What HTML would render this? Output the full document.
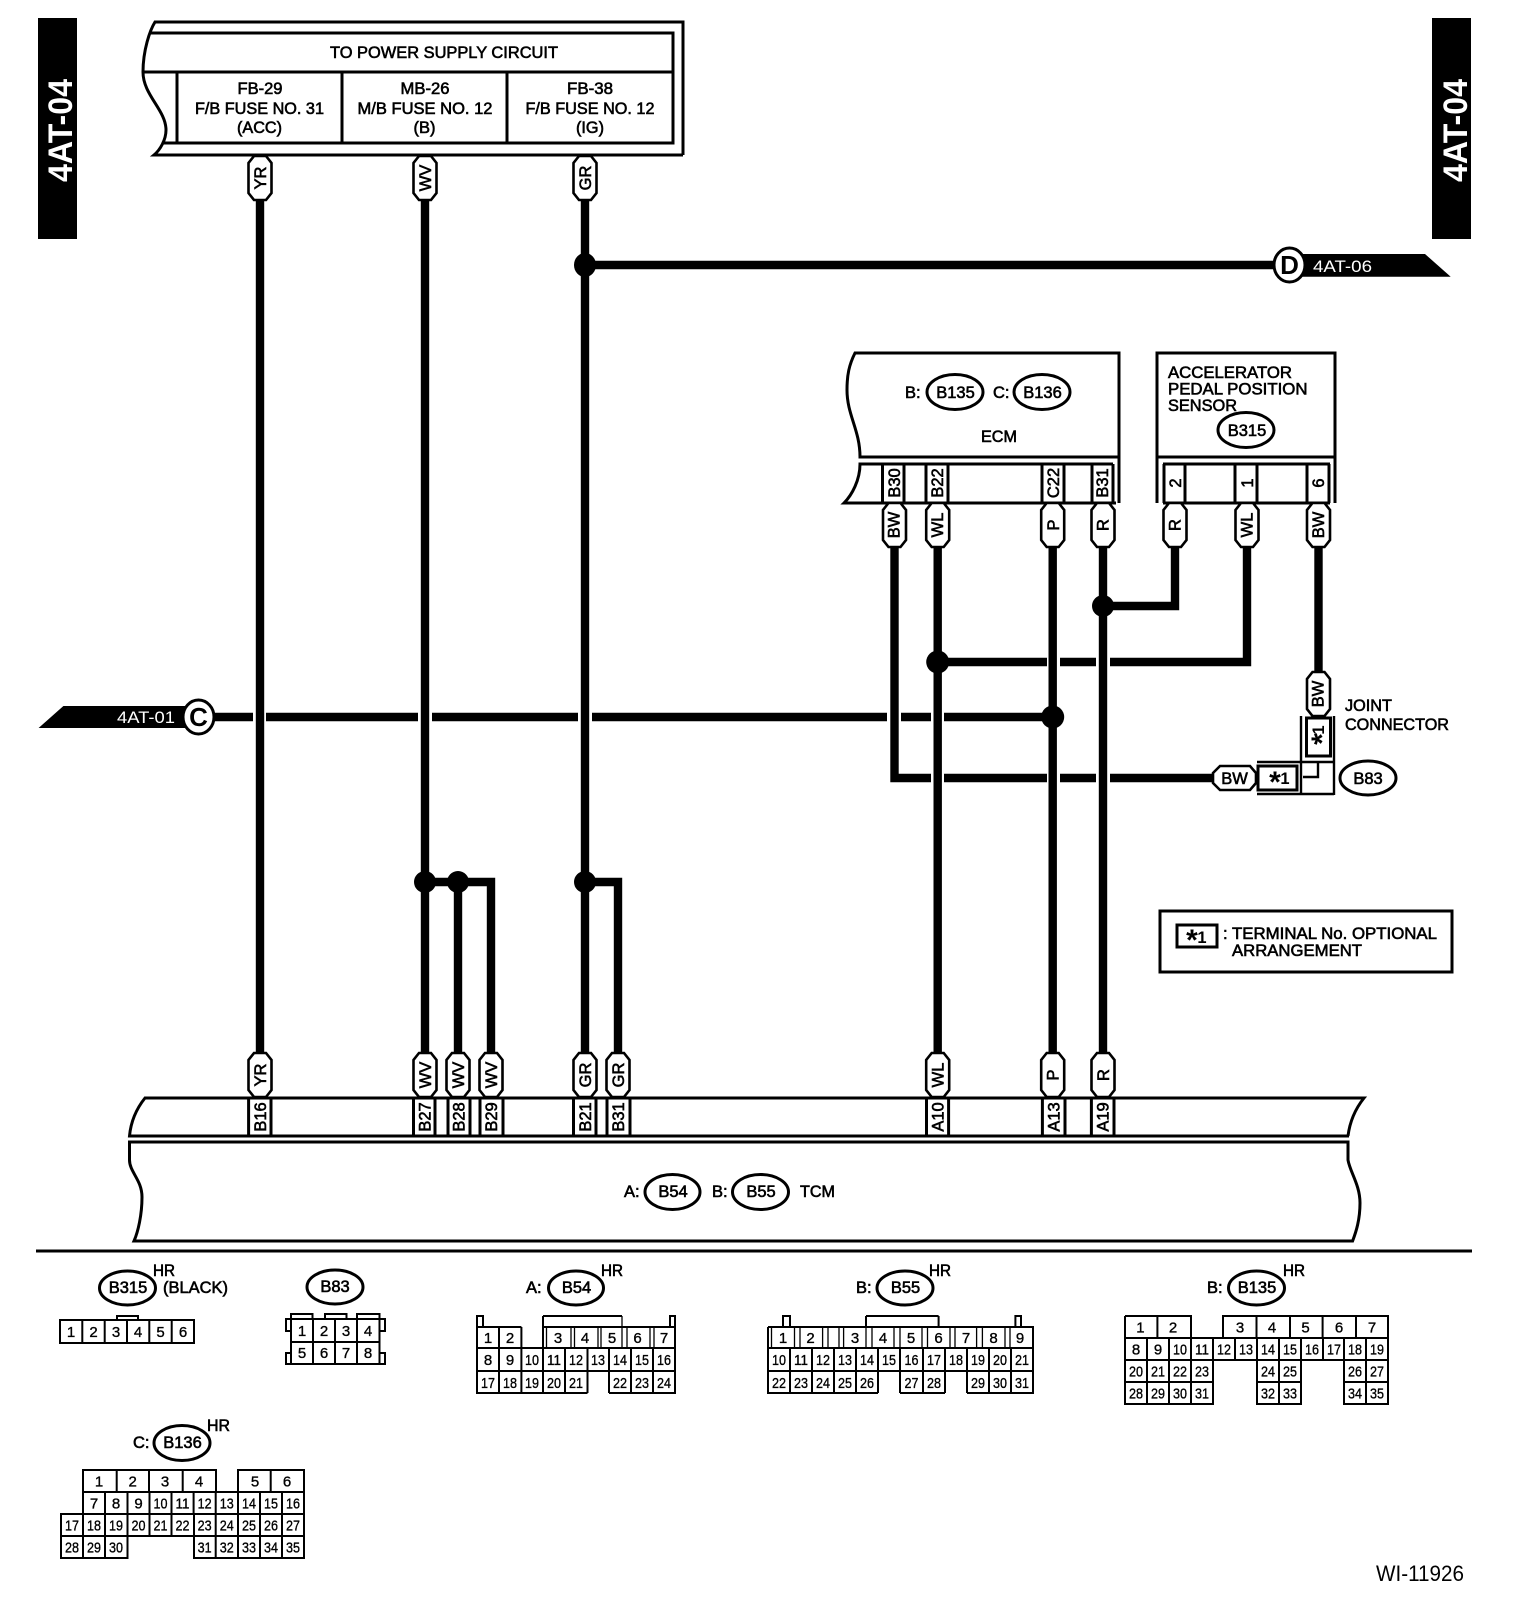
<!DOCTYPE html>
<html><head><meta charset="utf-8"><style>
html,body{margin:0;padding:0;background:#fff}
svg{display:block}
text{font-family:"Liberation Sans",sans-serif;font-size:16.5px;fill:#000;stroke:#000;stroke-width:.6}
.m{text-anchor:middle}
.w{fill:#fff;stroke:none}
.b{font-weight:bold;stroke:none}
.n{text-anchor:middle;font-size:15px;stroke-width:.35}
.s{font-weight:bold;font-size:30px;text-anchor:middle;stroke:none}
.o{fill:#fff;stroke:#000;stroke-width:3}
.l{fill:none;stroke:#000;stroke-width:3}
.g{fill:none;stroke:#000;stroke-width:2}
.h{fill:none;stroke:#000;stroke-width:1.3}
.r{fill:none;stroke:#000;stroke-width:8.4}
</style></head><body>
<svg width="1520" height="1604" viewBox="0 0 1520 1604" xmlns="http://www.w3.org/2000/svg">
<defs><path id="p" d="M-6,0H6L11.5,7V37L6,44H-6L-11.5,37V7Z" fill="#fff" stroke="#000" stroke-width="2.6"/></defs>
<rect width="1520" height="1604" fill="#fff"/>

<!-- side bars -->
<rect x="38" y="18" width="39" height="221" fill="#000"/>
<rect x="1432" y="18" width="39" height="221" fill="#000"/>
<text class="b w m" style="font-size:34px" textLength="103" lengthAdjust="spacingAndGlyphs" transform="translate(72,130.5) rotate(-90)">4AT-04</text>
<text class="b w m" style="font-size:34px" textLength="103" lengthAdjust="spacingAndGlyphs" transform="translate(1467,130.5) rotate(-90)">4AT-04</text>

<!-- power box -->
<path class="l" d="M683,155V22H155C150,30 143,50 143,72C143,95 166,110 166,130C166,140 160,150 154,155H683"/>
<path class="l" d="M150,33H673V143H163M143,72H673M177,72V143M342,72V143M507,72V143"/>
<text class="m" x="444" y="58" textLength="228" lengthAdjust="spacingAndGlyphs">TO POWER SUPPLY CIRCUIT</text>
<text class="m" x="260" y="94" textLength="45" lengthAdjust="spacingAndGlyphs">FB-29</text>
<text class="m" x="259.500" y="114" textLength="129" lengthAdjust="spacingAndGlyphs">F/B FUSE NO. 31</text>
<text class="m" x="259.500" y="133" textLength="45" lengthAdjust="spacingAndGlyphs">(ACC)</text>
<text class="m" x="425" y="94" textLength="49" lengthAdjust="spacingAndGlyphs">MB-26</text>
<text class="m" x="425" y="114" textLength="135" lengthAdjust="spacingAndGlyphs">M/B FUSE NO. 12</text>
<text class="m" x="424.500" y="133" textLength="22" lengthAdjust="spacingAndGlyphs">(B)</text>
<text class="m" x="590" y="94" textLength="46" lengthAdjust="spacingAndGlyphs">FB-38</text>
<text class="m" x="590" y="114" textLength="129" lengthAdjust="spacingAndGlyphs">F/B FUSE NO. 12</text>
<text class="m" x="590" y="133" textLength="28" lengthAdjust="spacingAndGlyphs">(IG)</text>

<!-- wires -->
<g class="r">
<path class="r" d="M260,190V1060M425,190V1060M585,190V1060"/>
<path class="r" d="M425,882H491V1060M585,882H618V1060M458,882V1060"/>
<path class="r" d="M585,265H1280"/>
<path class="r" d="M210,717H253M266,717H418M432,717H578M592,717H887M901,717H931M944,717H1052"/>
<path class="r" d="M894.500,540V778H931M944,778H1047M1060,778H1096M1110,778H1215"/>
<path class="r" d="M937.700,540V1060M1052.700,540V1060M1103,540V1060"/>
<path class="r" d="M937.700,662H1047M1060,662H1096M1110,662H1247V540"/>
<path class="r" d="M1103,606H1175V540"/>
<path class="r" d="M1318.500,540V680"/>
</g>
<g fill="#000">
<ellipse cx="585" cy="265" rx="11" ry="12"/>
<circle cx="425" cy="882" r="11"/><circle cx="458" cy="882" r="11"/><circle cx="585" cy="882" r="11"/>
<circle cx="937.700" cy="662" r="11.500"/><circle cx="1052.700" cy="717" r="11.500"/><circle cx="1103" cy="606" r="11"/>
</g>

<!-- off-page flags -->
<path d="M38.600,728L63.400,706H200V728Z" fill="#000"/>
<ellipse class="o" cx="198.500" cy="717" rx="15.500" ry="17"/>
<text class="b m" style="font-size:26px" x="198.500" y="726">C</text>
<text class="w" x="117" y="723" textLength="58" lengthAdjust="spacingAndGlyphs">4AT-01</text>
<path d="M1288,254H1425L1450.700,276.700H1288Z" fill="#000"/>
<ellipse class="o" cx="1289.500" cy="265" rx="15.500" ry="17"/>
<text class="b m" style="font-size:26px" x="1289.500" y="274">D</text>
<text class="w" x="1313" y="272" textLength="59" lengthAdjust="spacingAndGlyphs">4AT-06</text>

<!-- ECM -->
<path class="l" d="M1119,503V353H855C849,365 847,375 847,390C847,415 860,430 860,457H1119"/>
<path class="l" d="M1113,464H860C860,480 852,495 844,503H1116"/>
<path class="l" d="M882.500,464V503M904,464V503M926,464V503M948,464V503M1042,464V503M1064,464V503M1092,464V503M1113,464V503"/>
<text x="905" y="398">B:</text>
<ellipse class="o" cx="955" cy="392" rx="28" ry="17.500"/>
<text class="m" x="955.500" y="398">B135</text>
<text x="993" y="398">C:</text>
<ellipse class="o" cx="1042" cy="392" rx="28" ry="17.500"/>
<text class="m" x="1042.500" y="398">B136</text>
<text class="m" x="999" y="442" textLength="36" lengthAdjust="spacingAndGlyphs">ECM</text>
<text class="m" transform="translate(900,483) rotate(-90)">B30</text>
<text class="m" transform="translate(943,483) rotate(-90)">B22</text>
<text class="m" transform="translate(1059,483) rotate(-90)">C22</text>
<text class="m" transform="translate(1108,483) rotate(-90)">B31</text>

<!-- Sensor -->
<path class="l" d="M1157,503V353H1335V503M1157,457H1335"/>
<path class="l" d="M1163,464H1330M1163,503H1330M1164,464V503M1185,464V503M1235,464V503M1257,464V503M1307,464V503M1329,464V503"/>
<text x="1168" y="378" textLength="124" lengthAdjust="spacingAndGlyphs">ACCELERATOR</text>
<text x="1168" y="394.500" textLength="139.500" lengthAdjust="spacingAndGlyphs">PEDAL POSITION</text>
<text x="1168" y="411" textLength="69" lengthAdjust="spacingAndGlyphs">SENSOR</text>
<ellipse class="o" cx="1246" cy="430" rx="28" ry="17.500"/>
<text class="m" x="1247" y="436">B315</text>
<text class="m" transform="translate(1181,483) rotate(-90)">2</text>
<text class="m" transform="translate(1253,483) rotate(-90)">1</text>
<text class="m" transform="translate(1324,483) rotate(-90)">6</text>

<!-- pills -->
<use href="#p" x="260" y="156"/><use href="#p" x="425" y="156"/><use href="#p" x="585" y="156"/>
<use href="#p" x="894.500" y="503"/><use href="#p" x="937.700" y="503"/><use href="#p" x="1052.700" y="503"/><use href="#p" x="1103" y="503"/>
<use href="#p" x="1175" y="503"/><use href="#p" x="1247" y="503"/><use href="#p" x="1318.500" y="503"/>
<use href="#p" x="1318.500" y="672"/>
<use href="#p" x="260" y="1053"/><use href="#p" x="425" y="1053"/><use href="#p" x="458" y="1053"/><use href="#p" x="491" y="1053"/>
<use href="#p" x="585" y="1053"/><use href="#p" x="618" y="1053"/><use href="#p" x="937.700" y="1053"/><use href="#p" x="1052.700" y="1053"/><use href="#p" x="1103" y="1053"/>

<text class="m" transform="translate(266,178) rotate(-90)">YR</text>
<text class="m" transform="translate(431,178) rotate(-90)">WV</text>
<text class="m" transform="translate(591,178) rotate(-90)">GR</text>
<text class="m" transform="translate(899.500,525) rotate(-90)">BW</text>
<text class="m" transform="translate(943,525) rotate(-90)">WL</text>
<text class="m" transform="translate(1059,525) rotate(-90)">P</text>
<text class="m" transform="translate(1108.500,525) rotate(-90)">R</text>
<text class="m" transform="translate(1180.500,525) rotate(-90)">R</text>
<text class="m" transform="translate(1252.500,525) rotate(-90)">WL</text>
<text class="m" transform="translate(1324,525) rotate(-90)">BW</text>
<text class="m" transform="translate(1323.500,694) rotate(-90)">BW</text>
<text class="m" transform="translate(266,1075) rotate(-90)">YR</text>
<text class="m" transform="translate(431,1075) rotate(-90)">WV</text>
<text class="m" transform="translate(464,1075) rotate(-90)">WV</text>
<text class="m" transform="translate(497,1075) rotate(-90)">WV</text>
<text class="m" transform="translate(591,1075) rotate(-90)">GR</text>
<text class="m" transform="translate(624,1075) rotate(-90)">GR</text>
<text class="m" transform="translate(943.700,1075) rotate(-90)">WL</text>
<text class="m" transform="translate(1058.700,1075) rotate(-90)">P</text>
<text class="m" transform="translate(1109,1075) rotate(-90)">R</text>

<!-- joint connector -->
<path class="g" d="M1301,716V795M1334,716V795M1257,762H1334M1257,794H1334M1318,762V777H1303" style="stroke-width:2.4"/>
<rect class="l" x="1306.500" y="718" width="24" height="38"/>
<rect class="l" x="1258" y="766" width="39" height="24"/>
<path d="M1220,766H1250L1256,773V783L1250,790H1220L1213,783V773Z" fill="#fff" stroke="#000" stroke-width="2.6"/>
<text class="m" x="1234.500" y="784">BW</text>
<text class="s" x="1275" y="792">*</text>
<text class="m b" x="1285" y="784">1</text>
<text class="s" x="1318" y="753" transform="rotate(-90 1318 739)">*</text>
<text class="m b" transform="translate(1324,730) rotate(-90)">1</text>
<ellipse class="o" cx="1368" cy="778" rx="28" ry="17"/>
<text class="m" x="1368" y="784">B83</text>
<text x="1345" y="711" textLength="47" lengthAdjust="spacingAndGlyphs">JOINT</text>
<text x="1345" y="730" textLength="104" lengthAdjust="spacingAndGlyphs">CONNECTOR</text>

<!-- legend -->
<rect class="l" x="1160" y="911" width="292" height="61"/>
<rect class="l" x="1177" y="925" width="40" height="22"/>
<text class="s" x="1192" y="950">*</text>
<text class="m b" x="1202" y="943">1</text>
<text x="1223" y="939">:</text>
<text x="1232" y="939" textLength="205" lengthAdjust="spacingAndGlyphs">TERMINAL No. OPTIONAL</text>
<text x="1232" y="956" textLength="130" lengthAdjust="spacingAndGlyphs">ARRANGEMENT</text>

<!-- TCM -->
<path class="l" d="M1349,1136H129.500C131,1120 137,1108 145,1098H1364C1356,1108 1350,1120 1348,1136"/>
<path class="l" d="M129.500,1142H1348V1160C1350,1172 1360,1185 1360,1203C1360,1220 1356,1232 1352.600,1241H134C138,1232 142,1215 142,1197C142,1180 129.500,1172 129.500,1160Z"/>
<path class="l" d="M248.600,1098V1136M271,1098V1136M413.500,1098V1136M435,1098V1136M448,1098V1136M470,1098V1136M480,1098V1136M503,1098V1136M573.500,1098V1136M596,1098V1136M607,1098V1136M630,1098V1136M926.500,1098V1136M948.600,1098V1136M1042.400,1098V1136M1065,1098V1136M1091.400,1098V1136M1114,1098V1136"/>
<text class="m" transform="translate(266,1117) rotate(-90)">B16</text>
<text class="m" transform="translate(430.500,1117) rotate(-90)">B27</text>
<text class="m" transform="translate(464.500,1117) rotate(-90)">B28</text>
<text class="m" transform="translate(497,1117) rotate(-90)">B29</text>
<text class="m" transform="translate(591,1117) rotate(-90)">B21</text>
<text class="m" transform="translate(624,1117) rotate(-90)">B31</text>
<text class="m" transform="translate(943.500,1117) rotate(-90)">A10</text>
<text class="m" transform="translate(1059.500,1117) rotate(-90)">A13</text>
<text class="m" transform="translate(1108.500,1117) rotate(-90)">A19</text>
<text x="624" y="1197">A:</text>
<ellipse class="o" cx="672.500" cy="1192" rx="27.500" ry="17.500"/>
<text class="m" x="673" y="1197">B54</text>
<text x="712" y="1197">B:</text>
<ellipse class="o" cx="760.500" cy="1192" rx="28" ry="17.500"/>
<text class="m" x="761" y="1197">B55</text>
<text x="800" y="1197" textLength="35" lengthAdjust="spacingAndGlyphs">TCM</text>

<path d="M36,1251H1472" stroke="#000" stroke-width="3"/>

<!-- B315 connector -->
<ellipse class="o" cx="127.500" cy="1288" rx="28" ry="17"/>
<text class="m" x="128" y="1293">B315</text>
<text x="153" y="1276" textLength="22" lengthAdjust="spacingAndGlyphs">HR</text>
<text x="163" y="1293" textLength="65" lengthAdjust="spacingAndGlyphs">(BLACK)</text>
<path class="g" d="M60,1320H194V1343H60ZM82.300,1320V1343M104.700,1320V1343M127,1320V1343M149.300,1320V1343M171.700,1320V1343M117,1320V1316H138V1320"/>
<text class="n" x="71" y="1337">1</text><text class="n" x="93.500" y="1337">2</text><text class="n" x="116" y="1337">3</text><text class="n" x="138" y="1337">4</text><text class="n" x="160.500" y="1337">5</text><text class="n" x="183" y="1337">6</text>

<!-- B83 connector -->
<ellipse class="o" cx="335" cy="1287" rx="28" ry="17"/>
<text class="m" x="335" y="1292">B83</text>
<path class="g" d="M291,1319H379.500V1364H291ZM291,1342H379.500M313,1319V1364M335,1319V1364M357,1319V1364M291,1319V1314H312.500V1319M325,1319V1314H346.500V1319M357,1319V1314H379.500V1319M291,1319H286V1331H291M379.500,1319H385V1331H379.500M291,1353H286V1364H291M379.500,1353H385V1364H379.500"/>
<text class="n" x="302" y="1336">1</text><text class="n" x="324" y="1336">2</text><text class="n" x="346" y="1336">3</text><text class="n" x="368" y="1336">4</text>
<text class="n" x="302" y="1358">5</text><text class="n" x="324" y="1358">6</text><text class="n" x="346" y="1358">7</text><text class="n" x="368" y="1358">8</text>

<!-- B54 connector -->
<text x="526" y="1293">A:</text>
<ellipse class="o" cx="576" cy="1288" rx="27.500" ry="17"/>
<text class="m" x="576.500" y="1293">B54</text>
<text x="601" y="1276" textLength="22" lengthAdjust="spacingAndGlyphs">HR</text>
<path class="g" d="M477,1327V1393H587.500M609,1393H675V1327M477,1327H521.400M543,1327H675M477,1348H675M477,1371H675M499,1327V1393M521.400,1327V1393M543,1316V1393M565,1348V1393M587.500,1348V1393M609,1348V1393M631,1348V1393M653,1348V1393M543,1316H622M477,1327V1316H483V1327M670,1327V1316H675V1327"/>
<path class="h" d="M546.500,1327V1348M571,1327V1348M574.500,1327V1348M598,1327V1348M601,1327V1348M622,1316V1348M627,1327V1348M650,1327V1348M654,1327V1348"/>
<text class="n" x="488" y="1343">1</text><text class="n" x="510" y="1343">2</text><text class="n" x="558" y="1343">3</text><text class="n" x="585" y="1343">4</text><text class="n" x="612" y="1343">5</text><text class="n" x="637.500" y="1343">6</text><text class="n" x="664" y="1343">7</text>
<text class="n" x="488" y="1365">8</text><text class="n" x="510" y="1365">9</text><text class="n" x="532" y="1365" textLength="14" lengthAdjust="spacingAndGlyphs">10</text><text class="n" x="554" y="1365" textLength="14" lengthAdjust="spacingAndGlyphs">11</text><text class="n" x="576" y="1365" textLength="14" lengthAdjust="spacingAndGlyphs">12</text><text class="n" x="598" y="1365" textLength="14" lengthAdjust="spacingAndGlyphs">13</text><text class="n" x="620" y="1365" textLength="14" lengthAdjust="spacingAndGlyphs">14</text><text class="n" x="642" y="1365" textLength="14" lengthAdjust="spacingAndGlyphs">15</text><text class="n" x="664" y="1365" textLength="14" lengthAdjust="spacingAndGlyphs">16</text>
<text class="n" x="488" y="1388" textLength="14" lengthAdjust="spacingAndGlyphs">17</text><text class="n" x="510" y="1388" textLength="14" lengthAdjust="spacingAndGlyphs">18</text><text class="n" x="532" y="1388" textLength="14" lengthAdjust="spacingAndGlyphs">19</text><text class="n" x="554" y="1388" textLength="14" lengthAdjust="spacingAndGlyphs">20</text><text class="n" x="576" y="1388" textLength="14" lengthAdjust="spacingAndGlyphs">21</text><text class="n" x="620" y="1388" textLength="14" lengthAdjust="spacingAndGlyphs">22</text><text class="n" x="642" y="1388" textLength="14" lengthAdjust="spacingAndGlyphs">23</text><text class="n" x="664" y="1388" textLength="14" lengthAdjust="spacingAndGlyphs">24</text>

<!-- B55 connector -->
<text x="856" y="1293">B:</text>
<ellipse class="o" cx="905" cy="1288" rx="28" ry="17"/>
<text class="m" x="905.500" y="1293">B55</text>
<text x="929" y="1276" textLength="22" lengthAdjust="spacingAndGlyphs">HR</text>
<path class="g" d="M768,1327H1033V1393H967M945,1393H900M878,1393H768V1327M768,1348H1033M768,1371H1033M790,1348V1393M812,1348V1393M834,1348V1393M856,1348V1393M878,1348V1393M900,1348V1393M923,1348V1393M945,1348V1393M967,1348V1393M989,1348V1393M1011,1348V1393M866,1316H938.600M866,1316V1327M938.600,1316V1327M783,1327V1316H790V1327M1015.400,1327V1316H1021V1327"/>
<path class="h" d="M771.500,1327V1348M794.500,1327V1348M800,1327V1348M822.600,1327V1348M828,1327V1348M839,1327V1348M843.600,1327V1348M866,1327V1348M872,1327V1348M894,1327V1348M900,1327V1348M922,1327V1348M927.500,1327V1348M950,1327V1348M955,1327V1348M976.600,1327V1348M982.400,1327V1348M1005,1327V1348M1010,1327V1348"/>
<text class="n" x="783" y="1343">1</text><text class="n" x="810.500" y="1343">2</text><text class="n" x="855" y="1343">3</text><text class="n" x="883" y="1343">4</text><text class="n" x="911" y="1343">5</text><text class="n" x="938.600" y="1343">6</text><text class="n" x="966" y="1343">7</text><text class="n" x="993.600" y="1343">8</text><text class="n" x="1020" y="1343">9</text>
<text class="n" x="779" y="1365" textLength="14" lengthAdjust="spacingAndGlyphs">10</text><text class="n" x="801" y="1365" textLength="14" lengthAdjust="spacingAndGlyphs">11</text><text class="n" x="823" y="1365" textLength="14" lengthAdjust="spacingAndGlyphs">12</text><text class="n" x="845" y="1365" textLength="14" lengthAdjust="spacingAndGlyphs">13</text><text class="n" x="867" y="1365" textLength="14" lengthAdjust="spacingAndGlyphs">14</text><text class="n" x="889" y="1365" textLength="14" lengthAdjust="spacingAndGlyphs">15</text><text class="n" x="911.500" y="1365" textLength="14" lengthAdjust="spacingAndGlyphs">16</text><text class="n" x="934" y="1365" textLength="14" lengthAdjust="spacingAndGlyphs">17</text><text class="n" x="956" y="1365" textLength="14" lengthAdjust="spacingAndGlyphs">18</text><text class="n" x="978" y="1365" textLength="14" lengthAdjust="spacingAndGlyphs">19</text><text class="n" x="1000" y="1365" textLength="14" lengthAdjust="spacingAndGlyphs">20</text><text class="n" x="1022" y="1365" textLength="14" lengthAdjust="spacingAndGlyphs">21</text>
<text class="n" x="779" y="1388" textLength="14" lengthAdjust="spacingAndGlyphs">22</text><text class="n" x="801" y="1388" textLength="14" lengthAdjust="spacingAndGlyphs">23</text><text class="n" x="823" y="1388" textLength="14" lengthAdjust="spacingAndGlyphs">24</text><text class="n" x="845" y="1388" textLength="14" lengthAdjust="spacingAndGlyphs">25</text><text class="n" x="867" y="1388" textLength="14" lengthAdjust="spacingAndGlyphs">26</text><text class="n" x="911.500" y="1388" textLength="14" lengthAdjust="spacingAndGlyphs">27</text><text class="n" x="934" y="1388" textLength="14" lengthAdjust="spacingAndGlyphs">28</text><text class="n" x="978" y="1388" textLength="14" lengthAdjust="spacingAndGlyphs">29</text><text class="n" x="1000" y="1388" textLength="14" lengthAdjust="spacingAndGlyphs">30</text><text class="n" x="1022" y="1388" textLength="14" lengthAdjust="spacingAndGlyphs">31</text>

<!-- B135 connector -->
<text x="1207" y="1293">B:</text>
<ellipse class="o" cx="1256.500" cy="1288" rx="28" ry="17"/>
<text class="m" x="1257" y="1293">B135</text>
<text x="1283" y="1276" textLength="22" lengthAdjust="spacingAndGlyphs">HR</text>
<path class="g" d="M1125,1316H1191V1338M1223,1338V1316H1388V1382M1125,1316V1404H1213V1360M1257,1360V1404H1301V1360M1344,1360V1404H1388V1360M1157.400,1316V1338M1256.500,1316V1338M1290,1316V1338M1322.600,1316V1338M1356,1316V1338M1125,1338H1388M1125,1360H1388M1125,1382H1213M1257,1382H1301M1344,1382H1388M1147,1338V1404M1169,1338V1404M1191,1338V1404M1213,1338V1360M1235,1338V1360M1257,1338V1360M1279,1338V1404M1301,1338V1360M1323,1338V1360M1344,1338V1360M1366,1338V1404M1388,1382V1404"/>
<text class="n" x="1140.400" y="1332.500">1</text><text class="n" x="1173" y="1332.500">2</text><text class="n" x="1240" y="1332.500">3</text><text class="n" x="1272" y="1332.500">4</text><text class="n" x="1305.600" y="1332.500">5</text><text class="n" x="1339" y="1332.500">6</text><text class="n" x="1372" y="1332.500">7</text>
<text class="n" x="1136" y="1354.500">8</text><text class="n" x="1158" y="1354.500">9</text><text class="n" x="1180" y="1354.500" textLength="14" lengthAdjust="spacingAndGlyphs">10</text><text class="n" x="1202" y="1354.500" textLength="14" lengthAdjust="spacingAndGlyphs">11</text><text class="n" x="1224" y="1354.500" textLength="14" lengthAdjust="spacingAndGlyphs">12</text><text class="n" x="1246" y="1354.500" textLength="14" lengthAdjust="spacingAndGlyphs">13</text><text class="n" x="1268" y="1354.500" textLength="14" lengthAdjust="spacingAndGlyphs">14</text><text class="n" x="1290" y="1354.500" textLength="14" lengthAdjust="spacingAndGlyphs">15</text><text class="n" x="1312" y="1354.500" textLength="14" lengthAdjust="spacingAndGlyphs">16</text><text class="n" x="1334" y="1354.500" textLength="14" lengthAdjust="spacingAndGlyphs">17</text><text class="n" x="1355" y="1354.500" textLength="14" lengthAdjust="spacingAndGlyphs">18</text><text class="n" x="1377" y="1354.500" textLength="14" lengthAdjust="spacingAndGlyphs">19</text>
<text class="n" x="1136" y="1376.500" textLength="14" lengthAdjust="spacingAndGlyphs">20</text><text class="n" x="1158" y="1376.500" textLength="14" lengthAdjust="spacingAndGlyphs">21</text><text class="n" x="1180" y="1376.500" textLength="14" lengthAdjust="spacingAndGlyphs">22</text><text class="n" x="1202" y="1376.500" textLength="14" lengthAdjust="spacingAndGlyphs">23</text><text class="n" x="1268" y="1376.500" textLength="14" lengthAdjust="spacingAndGlyphs">24</text><text class="n" x="1290" y="1376.500" textLength="14" lengthAdjust="spacingAndGlyphs">25</text><text class="n" x="1355" y="1376.500" textLength="14" lengthAdjust="spacingAndGlyphs">26</text><text class="n" x="1377" y="1376.500" textLength="14" lengthAdjust="spacingAndGlyphs">27</text>
<text class="n" x="1136" y="1398.500" textLength="14" lengthAdjust="spacingAndGlyphs">28</text><text class="n" x="1158" y="1398.500" textLength="14" lengthAdjust="spacingAndGlyphs">29</text><text class="n" x="1180" y="1398.500" textLength="14" lengthAdjust="spacingAndGlyphs">30</text><text class="n" x="1202" y="1398.500" textLength="14" lengthAdjust="spacingAndGlyphs">31</text><text class="n" x="1268" y="1398.500" textLength="14" lengthAdjust="spacingAndGlyphs">32</text><text class="n" x="1290" y="1398.500" textLength="14" lengthAdjust="spacingAndGlyphs">33</text><text class="n" x="1355" y="1398.500" textLength="14" lengthAdjust="spacingAndGlyphs">34</text><text class="n" x="1377" y="1398.500" textLength="14" lengthAdjust="spacingAndGlyphs">35</text>

<!-- B136 connector -->
<text x="133" y="1448">C:</text>
<ellipse class="o" cx="182" cy="1443" rx="28" ry="17.500"/>
<text class="m" x="182.500" y="1448">B136</text>
<text x="207" y="1431" textLength="23" lengthAdjust="spacingAndGlyphs">HR</text>
<path class="g" d="M83,1514V1470H216V1492M238,1492V1470H304V1558H194V1514M127.500,1514V1558H61V1514H304M83,1492H304M61,1536H304M116.700,1470V1492M149,1470V1492M182.700,1470V1492M270.700,1470V1492M105,1492V1558M127.500,1492V1514M149.500,1492V1536M171.500,1492V1536M193.600,1492V1514M215.700,1492V1558M238,1492V1558M260,1492V1558M282,1492V1558M83,1514V1558"/>
<text class="n" x="99" y="1486.500">1</text><text class="n" x="132.700" y="1486.500">2</text><text class="n" x="165" y="1486.500">3</text><text class="n" x="199" y="1486.500">4</text><text class="n" x="255" y="1486.500">5</text><text class="n" x="287" y="1486.500">6</text>
<text class="n" x="94" y="1508.500">7</text><text class="n" x="116" y="1508.500">8</text><text class="n" x="138.500" y="1508.500">9</text><text class="n" x="160.500" y="1508.500" textLength="14" lengthAdjust="spacingAndGlyphs">10</text><text class="n" x="182.500" y="1508.500" textLength="14" lengthAdjust="spacingAndGlyphs">11</text><text class="n" x="204.600" y="1508.500" textLength="14" lengthAdjust="spacingAndGlyphs">12</text><text class="n" x="226.700" y="1508.500" textLength="14" lengthAdjust="spacingAndGlyphs">13</text><text class="n" x="249" y="1508.500" textLength="14" lengthAdjust="spacingAndGlyphs">14</text><text class="n" x="271" y="1508.500" textLength="14" lengthAdjust="spacingAndGlyphs">15</text><text class="n" x="293" y="1508.500" textLength="14" lengthAdjust="spacingAndGlyphs">16</text>
<text class="n" x="72" y="1530.500" textLength="14" lengthAdjust="spacingAndGlyphs">17</text><text class="n" x="94" y="1530.500" textLength="14" lengthAdjust="spacingAndGlyphs">18</text><text class="n" x="116" y="1530.500" textLength="14" lengthAdjust="spacingAndGlyphs">19</text><text class="n" x="138.500" y="1530.500" textLength="14" lengthAdjust="spacingAndGlyphs">20</text><text class="n" x="160.500" y="1530.500" textLength="14" lengthAdjust="spacingAndGlyphs">21</text><text class="n" x="182.500" y="1530.500" textLength="14" lengthAdjust="spacingAndGlyphs">22</text><text class="n" x="204.600" y="1530.500" textLength="14" lengthAdjust="spacingAndGlyphs">23</text><text class="n" x="226.700" y="1530.500" textLength="14" lengthAdjust="spacingAndGlyphs">24</text><text class="n" x="249" y="1530.500" textLength="14" lengthAdjust="spacingAndGlyphs">25</text><text class="n" x="271" y="1530.500" textLength="14" lengthAdjust="spacingAndGlyphs">26</text><text class="n" x="293" y="1530.500" textLength="14" lengthAdjust="spacingAndGlyphs">27</text>
<text class="n" x="72" y="1552.500" textLength="14" lengthAdjust="spacingAndGlyphs">28</text><text class="n" x="94" y="1552.500" textLength="14" lengthAdjust="spacingAndGlyphs">29</text><text class="n" x="116" y="1552.500" textLength="14" lengthAdjust="spacingAndGlyphs">30</text><text class="n" x="204.600" y="1552.500" textLength="14" lengthAdjust="spacingAndGlyphs">31</text><text class="n" x="226.700" y="1552.500" textLength="14" lengthAdjust="spacingAndGlyphs">32</text><text class="n" x="249" y="1552.500" textLength="14" lengthAdjust="spacingAndGlyphs">33</text><text class="n" x="271" y="1552.500" textLength="14" lengthAdjust="spacingAndGlyphs">34</text><text class="n" x="293" y="1552.500" textLength="14" lengthAdjust="spacingAndGlyphs">35</text>

<text x="1376" y="1581" style="font-size:22px;stroke:none" textLength="88" lengthAdjust="spacingAndGlyphs">WI-11926</text>
</svg>
</body></html>
